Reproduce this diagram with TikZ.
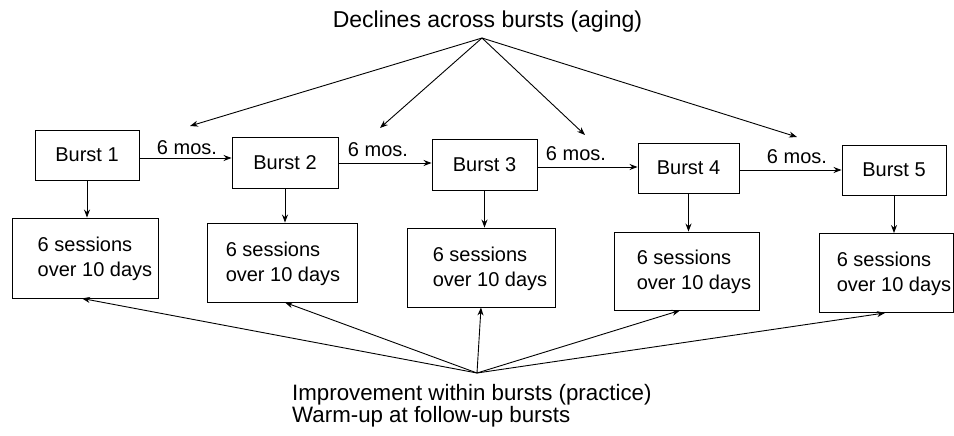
\documentclass[tikz,border=0pt]{standalone}
\usepackage{fontspec}
\setmainfont{Liberation Sans}
\usetikzlibrary{arrows.meta}
\begin{document}
\begin{tikzpicture}[x=1pt,y=-1pt,
  every node/.style={font=\fontsize{20}{25}\selectfont},
  bbox/.style={draw, line width=0.9pt, minimum width=104pt, minimum height=50pt, inner sep=0pt},
  sbox/.style={draw, line width=0.9pt, minimum height=79pt, inner sep=0pt},
  stext/.style={anchor=west, align=left, inner sep=0pt},
  conn/.style={line width=0.9pt, -{Stealth[length=8pt,width=6pt]}},
  lbl/.style={font=\fontsize{22.3}{22}\selectfont, inner sep=0pt},
  mos/.style={anchor=base, inner sep=0pt}]
\useasboundingbox (0,0) rectangle (954,436);

% burst boxes
\node[bbox] (b1) at (87,155) {Burst 1};
\node[bbox, minimum width=106pt, minimum height=51pt] (b2) at (285,162.5) {Burst 2};
\node[bbox, minimum width=105pt, minimum height=51pt] (b3) at (484.5,164.5) {Burst 3};
\node[bbox, minimum width=101pt] (b4) at (688.5,168) {Burst 4};
\node[bbox] (b5) at (894,170) {Burst 5};

% session boxes
\node[sbox, minimum width=146pt, minimum height=80pt] (s1) at (85,258) {};
\node[sbox, minimum width=150pt] (s2) at (282,262.5) {};
\node[sbox, minimum width=148pt] (s3) at (481,267.5) {};
\node[sbox, minimum width=145pt, minimum height=78pt] (s4) at (686.5,271) {};
\node[sbox, minimum width=134pt] (s5) at (886,273) {};

\node[stext] (t1) at ([xshift=26pt,yshift=-1pt]s1.west) {6 sessions\\over 10 days};
\node[stext] (t2) at ([xshift=19pt,yshift=-1pt]s2.west) {6 sessions\\over 10 days};
\node[stext] (t3) at ([xshift=26pt,yshift=-1pt]s3.west) {6 sessions\\over 10 days};
\node[stext] (t4) at ([xshift=23pt,yshift=-1pt]s4.west) {6 sessions\\over 10 days};
\node[stext] (t5) at ([xshift=18pt,yshift=-1pt]s5.west) {6 sessions\\over 10 days};

% labels
\node[lbl, anchor=base, font=\fontsize{23}{23}\selectfont] (top) at (487.5,28) {Declines across bursts (aging)};
\node[lbl, anchor=base west] (bot1) at (292,400) {Improvement within bursts (practice)};
\node[lbl, anchor=base west] (bot2) at (292,422) {Warm-up at follow-up bursts};

% horizontal arrows
\coordinate (h1) at (0,158);
\coordinate (h2) at (0,163);
\coordinate (h3) at (0,167);
\coordinate (h4) at (0,170);
\draw[conn] (b1.east |- h1) -- (b2.west |- h1);
\draw[conn] (b2.east |- h2) -- (b3.west |- h2);
\draw[conn] (b3.east |- h3) -- (b4.west |- h3);
\draw[conn] (b4.east |- h4) -- (b5.west |- h4);

\node[mos] (m1) at (187,154) {6 mos.};
\node[mos] (m2) at (378,157) {6 mos.};
\node[mos] (m3) at (576,160) {6 mos.};
\node[mos] (m4) at (797,163) {6 mos.};

% vertical arrows
\draw[conn] (b1.south) -- (s1.north -| b1.south);
\draw[conn] (b2.south) -- (s2.north -| b2.south);
\draw[conn] (b3.south) -- (s3.north -| b3.south);
\draw[conn] (b4.south) -- (s4.north -| b4.south);
\draw[conn] (b5.south) -- (s5.north -| b5.south);

% declines arrows
\coordinate (apexT) at (482,38);
\coordinate (d1) at (190,126);
\coordinate (d2) at (380,128);
\coordinate (d3) at (585,135);
\coordinate (d4) at (797,137);
\foreach \d in {d1,d2,d3,d4} \draw[conn] (apexT) -- (\d);

% improvement arrows
\coordinate (apexB) at (477,373);
\coordinate (e1) at (82,0);
\coordinate (e2) at (285,0);
\coordinate (e3) at (481,0);
\coordinate (e4) at (680,0);
\coordinate (e5) at (885,0);
\draw[conn] (apexB) -- (s1.south -| e1);
\draw[conn] (apexB) -- (s2.south -| e2);
\draw[conn] (apexB) -- (s3.south -| e3);
\draw[conn] (apexB) -- (s4.south -| e4);
\draw[conn] (apexB) -- (s5.south -| e5);
\end{tikzpicture}
\end{document}
